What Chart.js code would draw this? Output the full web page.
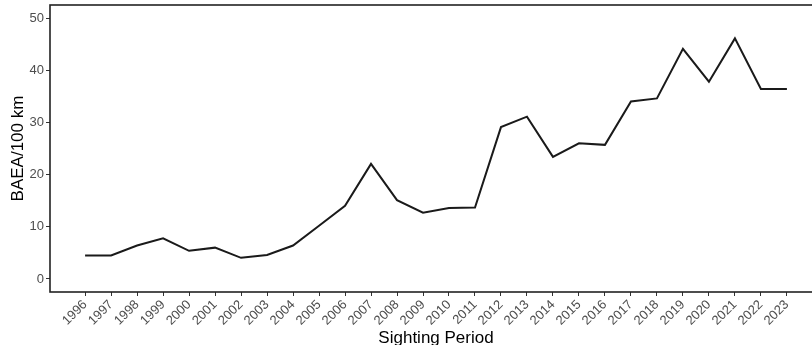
<!DOCTYPE html>
<html>
<head>
<meta charset="utf-8">
<script src="https://cdn.jsdelivr.net/npm/chart.js@4.4.1/dist/chart.umd.min.js"></script>
<style>
  html, body { margin: 0; padding: 0; background: #fff; overflow: hidden; width: 812px; height: 345px; }
  #sightChart { display: block; }
</style>
</head>
<body>
<canvas id="sightChart" width="835" height="345"></canvas>
<script>
// years and BAEA per 100 km
const years = [1996, 1997, 1998, 1999, 2000, 2001, 2002, 2003, 2004, 2005, 2006, 2007, 2008, 2009,
               2010, 2011, 2012, 2013, 2014, 2015, 2016, 2017, 2018, 2019, 2020, 2021, 2022, 2023];
const baeaPer100km = [4.5, 4.5, 6.4, 7.8, 5.4, 6.0, 4.05, 4.6, 6.4, 10.2, 14.0, 22.05, 15.1, 12.7,
                      13.6, 13.7, 29.1, 31.1, 23.4, 26.0, 25.7, 34.0, 34.6, 44.1, 37.8, 46.1, 36.4, 36.4];
const yTicks = [0, 10, 20, 30, 40, 50];

const tickColor = "#4d4d4d";
const fontFamily = "'Liberation Sans', Arial, sans-serif";

// panel border (ggplot-style box)
const panelBorder = {
    id: "panelBorder",
    afterDraw(chart) {
        const { ctx, chartArea } = chart;
        ctx.save();
        ctx.strokeStyle = "#222";
        ctx.lineWidth = 1.6;
        ctx.strokeRect(chartArea.left, chartArea.top, chartArea.right - chartArea.left, chartArea.bottom - chartArea.top);
        ctx.restore();
    }
};

const points = years.map((yr, i) => ({ x: yr, y: baeaPer100km[i] }));

new Chart(document.getElementById("sightChart").getContext("2d"), {
    type: "line",
    data: {
        datasets: [{
            data: points,
            borderColor: "#1a1a1a",
            borderWidth: 2,
            pointRadius: 0,
            tension: 0,
            fill: false
        }]
    },
    options: {
        responsive: false,
        animation: false,
        layout: { padding: { top: 5, right: 13, left: 0, bottom: 0 } },
        plugins: { legend: { display: false }, tooltip: { enabled: false } },
        scales: {
            x: {
                type: "linear",
                min: 1996 - 1.35,
                max: 2023 + 1.35,
                afterBuildTicks: (scale) => { scale.ticks = years.map(v => ({ value: v })); },
                afterFit: (scale) => { scale.height = 53; scale.paddingLeft = 0; scale.paddingRight = 0; },
                grid: { display: true, drawOnChartArea: false, drawTicks: true, tickLength: 4, color: "#333" },
                border: { display: false },
                ticks: {
                    autoSkip: false,
                    minRotation: 45,
                    maxRotation: 45,
                    padding: 1,
                    color: tickColor,
                    font: { family: fontFamily, size: 13 },
                    callback: (v) => String(v)
                },
                title: {
                    display: true,
                    text: "Sighting Period",
                    color: "#000",
                    font: { family: fontFamily, size: 17 },
                    padding: { top: 0, bottom: -4 }
                }
            },
            y: {
                min: -2.5,
                max: 52.5,
                afterBuildTicks: (scale) => { scale.ticks = yTicks.map(v => ({ value: v })); },
                afterFit: (scale) => { scale.width = 50; scale.paddingTop = 0; scale.paddingBottom = 0; },
                grid: { display: true, drawOnChartArea: false, drawTicks: true, tickLength: 4, color: "#333" },
                border: { display: false },
                ticks: {
                    padding: 2,
                    color: tickColor,
                    font: { family: fontFamily, size: 13 }
                },
                title: {
                    display: true,
                    text: "BAEA/100 km",
                    color: "#000",
                    font: { family: fontFamily, size: 17 },
                    padding: { top: 8, bottom: 0 }
                }
            }
        }
    },
    plugins: [panelBorder]
});
</script>
</body>
</html>
